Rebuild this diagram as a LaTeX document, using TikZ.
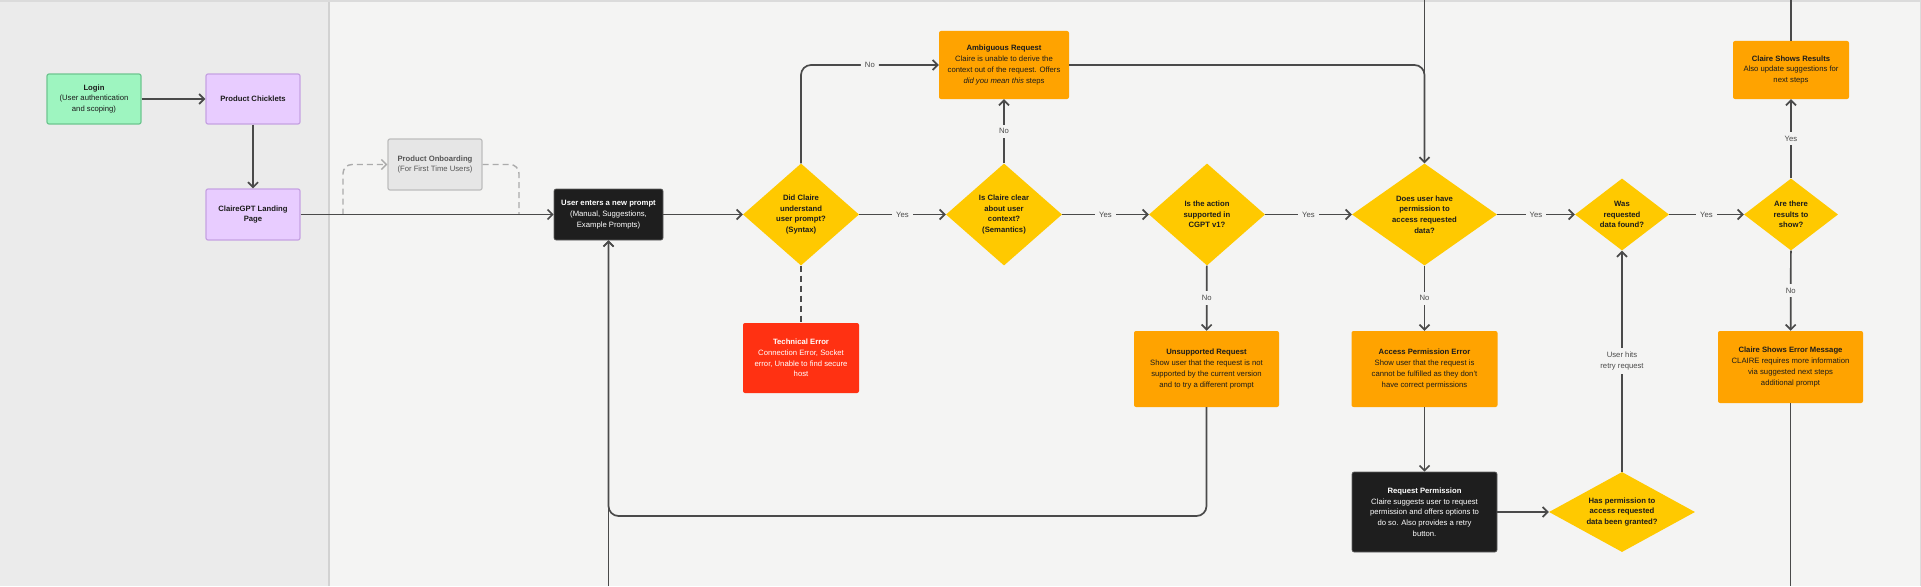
\documentclass[tikz,border=0pt]{standalone}
\usepackage{fontspec}
\setmainfont{Liberation Sans}
\usetikzlibrary{shapes.geometric,arrows.meta}
\definecolor{leftbg}{HTML}{EBEBEB}
\definecolor{rightbg}{HTML}{F4F4F3}
\definecolor{divider}{HTML}{D2D2D2}
\definecolor{txt}{HTML}{1C1C1C}
\definecolor{gfill}{HTML}{9EF5C0}
\definecolor{gdraw}{HTML}{6EC690}
\definecolor{lfill}{HTML}{E8CCFF}
\definecolor{ldraw}{HTML}{C6A2E2}
\definecolor{ofill}{HTML}{E6E6E6}
\definecolor{odraw}{HTML}{BDBDBD}
\definecolor{otext}{HTML}{555555}
\definecolor{blk}{HTML}{1E1E1E}
\definecolor{orng}{HTML}{FFA300}
\definecolor{redb}{HTML}{FF3112}
\definecolor{ydia}{HTML}{FFC900}
\definecolor{conn}{HTML}{4A4A4A}
\definecolor{dashc}{HTML}{ABABAB}
\begin{document}
\begin{tikzpicture}[x=1pt,y=-1pt,
  font=\fontsize{7.7}{10.7}\selectfont,
  box/.style={rectangle, rounded corners=2pt, inner sep=0pt, align=center, text=txt},
  greenbox/.style={box, fill=gfill, draw=gdraw, line width=1.2pt},
  lavbox/.style={box, fill=lfill, draw=ldraw, line width=1.2pt},
  graybox/.style={box, fill=ofill, draw=odraw, line width=1.2pt, text=otext},
  blackbox/.style={box, fill=blk, draw=blk!70!white, line width=0.6pt, text=white},
  orangebox/.style={box, fill=orng},
  redbox/.style={box, fill=redb, text=white},
  dia/.style={diamond, fill=ydia, inner sep=0pt},
  diatext/.style={align=center, text=txt, font=\fontsize{7.7}{10.7}\selectfont\bfseries},
  conline/.style={draw=conn, line width=1.7pt},
  arr/.style={conline, -{Straight Barb[length=5pt,width=10pt]}},
  dasharr/.style={draw=dashc, line width=1.4pt, dash pattern=on 6pt off 4pt, -{Straight Barb[length=5pt,width=10pt]}},
  dashline/.style={draw=dashc, line width=1.4pt, dash pattern=on 6pt off 4pt},
  lbl/.style={fill=rightbg, inner sep=4pt, text=conn, font=\fontsize{7.7}{10.7}\selectfont},
]
\useasboundingbox (0,0) rectangle (1921,586);
% backgrounds
\fill[leftbg] (0,0) rectangle (329,586);
\fill[rightbg] (329,0) rectangle (1921,586);
\draw[divider, line width=1.2pt] (329,0) -- (329,586);
\draw[divider!80!white, line width=1.5pt] (0,1) -- (1921,1);
\draw[divider!80!white, line width=1pt] (1920,0) -- (1920,586);

% nodes
\node[greenbox, minimum width=94pt, minimum height=50pt] (login) at (94,99)
  {\textbf{Login}\\(User authentication\\and scoping)};
\node[lavbox, minimum width=94pt, minimum height=50pt] (chick) at (253,99)
  {\textbf{Product Chicklets}};
\node[lavbox, minimum width=94pt, minimum height=51pt] (land) at (253,214.5)
  {\textbf{ClaireGPT Landing}\\\textbf{Page}};
\node[graybox, minimum width=94pt, minimum height=51pt] (onb) at (435,164.5)
  {\textbf{Product Onboarding}\\(For First Time Users)};
\node[blackbox, minimum width=109pt, minimum height=51pt] (prompt) at (608.5,214.5)
  {\textbf{User enters a new prompt}\\(Manual, Suggestions,\\Example Prompts)};

\node[dia, minimum width=116pt, minimum height=102pt,
  label={[diatext]center:{Did Claire\\understand\\user prompt?\\(Syntax)}}] (d1) at (801,214.5) {};
\node[orangebox, minimum width=130pt, minimum height=68pt] (amb) at (1004,65)
  {\textbf{Ambiguous Request}\\Claire is unable to derive the\\context out of the request. Offers\\\textit{did you mean this} steps};
\node[dia, minimum width=116pt, minimum height=102pt,
  label={[diatext]center:{Is Claire clear\\about user\\context?\\(Semantics)}}] (d2) at (1004,214.5) {};
\node[dia, minimum width=116pt, minimum height=102pt,
  label={[diatext]center:{Is the action\\supported in\\CGPT v1?}}] (d3) at (1207,214.5) {};
\node[dia, minimum width=145pt, minimum height=102pt,
  label={[diatext]center:{Does user have\\permission to\\access requested\\data?}}] (d4) at (1424.5,214.5) {};
\node[dia, minimum width=94pt, minimum height=72pt,
  label={[diatext]center:{Was\\requested\\data found?}}] (d5) at (1622,214.5) {};
\node[dia, minimum width=94pt, minimum height=72pt,
  label={[diatext]center:{Are there\\results to\\show?}}] (d6) at (1791,214.5) {};
\node[orangebox, minimum width=116pt, minimum height=58pt] (res) at (1791,70)
  {\textbf{Claire Shows Results}\\Also update suggestions for\\next steps};
\node[orangebox, minimum width=145pt, minimum height=72pt] (errm) at (1790.5,367)
  {\textbf{Claire Shows Error Message}\\CLAIRE requires more information\\via suggested next steps\\additional prompt};
\node[orangebox, minimum width=145pt, minimum height=76pt] (unsup) at (1206.5,369)
  {\textbf{Unsupported Request}\\Show user that the request is not\\supported by the current version\\and to try a different prompt};
\node[orangebox, minimum width=146pt, minimum height=76pt] (acc) at (1424.5,369)
  {\textbf{Access Permission Error}\\Show user that the request is\\cannot be fulfilled as they don't\\have correct permissions};
\node[redbox, minimum width=116pt, minimum height=70pt] (tech) at (801,358)
  {\textbf{Technical Error}\\Connection Error, Socket\\error, Unable to find secure\\host};
\node[blackbox, minimum width=145pt, minimum height=80pt] (reqp) at (1424.5,512)
  {\textbf{Request Permission}\\Claire suggests user to request\\permission and offers options to\\do so. Also provides a retry\\button.};
\node[dia, minimum width=146pt, minimum height=80pt,
  label={[diatext]center:{Has permission to\\access requested\\data been granted?}}] (d7) at (1622,512) {};

% helper coordinates
\coordinate (top4) at (1424.5,0);
\coordinate (topR) at (1791,0);
\coordinate (botE) at (1790.5,586);
\coordinate (botP) at (608.5,586);
\coordinate (lc) at (608.5,516);
\coordinate (dl) at (343,214.5);
\coordinate (dr) at (519,214.5);

% connectors
\draw[arr] (login) -- (chick);
\draw[arr] (chick) -- (land);
\draw[dasharr, rounded corners=9pt] (dl) |- (onb.west);
\draw[dashline, rounded corners=9pt] (onb.east) -| (dr);
\draw[arr] (land) -- (prompt);
\draw[arr] (prompt) -- (d1);
\draw[arr, rounded corners=10pt] (d1.north) |- node[lbl, pos=0.75] {No} (amb.west);
\draw[arr] (d1) -- node[lbl] {Yes} (d2);
\draw[arr] (d2) -- node[lbl] {No} (amb);
\draw[arr] (d2) -- node[lbl] {Yes} (d3);
\draw[arr] (d3) -- node[lbl] {Yes} (d4);
\draw[arr] (d4) -- node[lbl] {Yes} (d5);
\draw[arr] (d5) -- node[lbl] {Yes} (d6);
\draw[arr] (d6) -- node[lbl] {Yes} (res);
\draw[arr] (d6) -- node[lbl] {No} (errm);
\draw[conline] (res) -- (topR);
\draw[conline] (errm) -- (botE);
\draw[conline] (top4) -- (d4.north);
\draw[arr, rounded corners=10pt] (amb.east) -| (d4.north);
\draw[conline, dash pattern=on 6pt off 4pt] (d1.south) -- (tech.north);
\draw[arr] (d3) -- node[lbl] {No} (unsup);
\draw[arr] (d4) -- node[lbl] {No} (acc);
\draw[arr, rounded corners=10pt] (unsup.south) |- (lc) -- (prompt.south);
\draw[arr] (botP) -- (prompt.south);
\draw[arr] (acc) -- (reqp);
\draw[arr] (reqp) -- (d7);
\draw[arr] (d7.north) -- node[lbl, align=center] {User hits\\retry request} (d5.south);
\end{tikzpicture}
\end{document}
